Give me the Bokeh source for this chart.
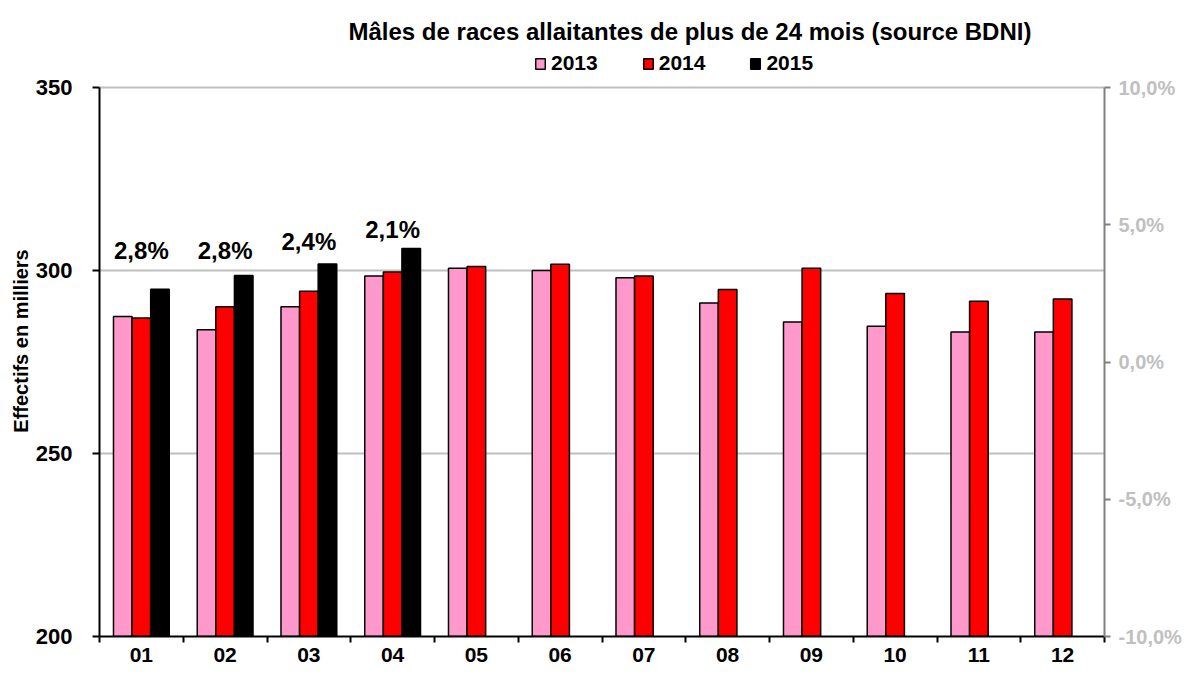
from bokeh.plotting import figure
from bokeh.models import (Range1d, LinearAxis, FixedTicker, Legend, LegendItem,
                          CustomJSTickFormatter)
from bokeh.core.properties import value
from bokeh.embed import file_html
from bokeh.resources import INLINE

months = ["01", "02", "03", "04", "05", "06", "07", "08", "09", "10", "11", "12"]
v2013 = [287.4, 283.8, 290.1, 298.5, 300.6, 300.0, 298.0, 291.1, 285.9, 284.8, 283.2, 283.2]
v2014 = [287.0, 290.1, 294.3, 299.6, 301.1, 301.7, 298.5, 294.8, 300.6, 293.7, 291.6, 292.2]
v2015 = [294.9, 298.6, 301.8, 306.0]
pct_labels = ["2,8%", "2,8%", "2,4%", "2,1%"]
pct_label_y = [305.6, 305.6, 307.9, 311.2]
series_names = ["2013", "2014", "2015"]
y_ticks = [200, 250, 300, 350]
pct_ticks = [-10, -5, 0, 5, 10]

FONT = "Liberation Sans"
colors = ["#FF99CC", "#FF0000", "#000000"]
bar_w = 0.222
offsets = [-bar_w, 0.0, bar_w]

# Layout (pixels): the frame extends above the value axis so the legend can sit there
W, H = 1184, 666
FRAME_TOP, FRAME_BOTTOM, AXIS_TOP = 45, 636, 87
FRAME_LEFT, FRAME_RIGHT = 99, 1104
y_lo, y_hi = y_ticks[0], y_ticks[-1]
p_lo, p_hi = pct_ticks[0], pct_ticks[-1]
y_max = y_hi + (AXIS_TOP - FRAME_TOP) * (y_hi - y_lo) / (FRAME_BOTTOM - AXIS_TOP)
p_max = p_hi + (y_max - y_hi) * (p_hi - p_lo) / (y_hi - y_lo)

p = figure(width=W, height=H, x_range=Range1d(0, len(months)),
           y_range=Range1d(y_lo, y_max), output_backend="svg", toolbar_location=None,
           min_border_left=FRAME_LEFT, min_border_right=W - FRAME_RIGHT,
           min_border_top=FRAME_TOP, min_border_bottom=H - FRAME_BOTTOM)
p.outline_line_color = None
p.background_fill_color = "white"

# Title
p.title.text = "Mâles de races allaitantes de plus de 24 mois (source BDNI)"
p.title.align = "left"
p.title.offset = 249
p.title.standoff = 2
p.title.text_font = FONT
p.title.text_font_style = "bold"
p.title.text_font_size = "24px"
p.title.text_color = "black"

# Bars
renderers = []
for vals, off, col in zip([v2013, v2014, v2015], offsets, colors):
    xs = [i + 0.5 + off for i in range(len(vals))]
    r = p.vbar(x=xs, top=vals, bottom=y_lo, width=bar_w, fill_color=col,
               line_color="black", line_width=1.5)
    renderers.append(r)

# Percentage labels
p.text(x=[i + 0.5 for i in range(len(pct_labels))], y=pct_label_y, text=pct_labels,
       text_font=value(FONT), text_font_style="bold", text_font_size="24px",
       text_align="center", text_baseline="middle", text_color="black")

# Grid
p.xgrid.grid_line_color = None
p.ygrid.ticker = FixedTicker(ticks=y_ticks)
p.ygrid.grid_line_color = "#c0c0c0"
p.ygrid.grid_line_width = 2

# Left axis
ya = p.yaxis[0]
ya.ticker = FixedTicker(ticks=y_ticks)
ya.bounds = (y_lo, y_hi)
ya.axis_line_color = "black"
ya.axis_line_width = 2
ya.major_tick_line_color = "black"
ya.major_tick_line_width = 2
ya.major_tick_out = 7
ya.major_tick_in = 0
ya.minor_tick_line_color = None
ya.major_label_text_font = FONT
ya.major_label_text_font_style = "bold"
ya.major_label_text_font_size = "22px"
ya.major_label_text_color = "black"
ya.major_label_standoff = 20
ya.axis_label = "Effectifs en milliers"
ya.axis_label_text_font = FONT
ya.axis_label_text_font_style = "bold"
ya.axis_label_text_font_size = "20px"
ya.axis_label_text_color = "black"
ya.axis_label_standoff = 1

# Bottom axis: labels at category centres, ticks at category boundaries
xa = p.xaxis[0]
xa.ticker = FixedTicker(ticks=[i + 0.5 for i in range(len(months))],
                        minor_ticks=list(range(len(months) + 1)))
xa.formatter = CustomJSTickFormatter(args=dict(labels=months),
                                     code="return labels[Math.floor(tick)];")
xa.axis_line_color = "black"
xa.axis_line_width = 2
xa.major_tick_line_color = None
xa.major_tick_out = 0
xa.major_tick_in = 0
xa.minor_tick_line_color = "black"
xa.minor_tick_line_width = 2
xa.minor_tick_out = 6
xa.minor_tick_in = 0
xa.major_label_text_font = FONT
xa.major_label_text_font_style = "bold"
xa.major_label_text_font_size = "21px"
xa.major_label_text_color = "black"
xa.major_label_standoff = 5

# Right axis (percent)
p.extra_y_ranges = {"pct": Range1d(p_lo, p_max)}
ra = LinearAxis(y_range_name="pct", ticker=FixedTicker(ticks=pct_ticks),
                formatter=CustomJSTickFormatter(
                    code="return tick.toFixed(1).replace('.', ',') + '%';"))
ra.bounds = (p_lo, p_hi)
ra.axis_line_color = "#808080"
ra.axis_line_width = 2
ra.major_tick_line_color = "#808080"
ra.major_tick_line_width = 2
ra.major_tick_out = 6
ra.major_tick_in = 0
ra.minor_tick_line_color = None
ra.major_label_text_font = FONT
ra.major_label_text_font_style = "bold"
ra.major_label_text_font_size = "20px"
ra.major_label_text_color = "#c0c0c0"
ra.major_label_standoff = 8
p.add_layout(ra, "right")

# Legend (in the band of the frame above the value axis)
legend = Legend(items=[LegendItem(label=n, renderers=[r]) for n, r in zip(series_names, renderers)],
                orientation="horizontal",
                location=(534 - FRAME_LEFT, FRAME_BOTTOM - 75))
legend.label_text_font = FONT
legend.label_text_font_style = "bold"
legend.label_text_font_size = "21px"
legend.label_text_color = "black"
legend.glyph_width = 12
legend.glyph_height = 13
legend.label_standoff = 5
legend.spacing = 44
legend.padding = 0
legend.margin = 0
legend.border_line_color = None
legend.background_fill_alpha = 0
p.add_layout(legend)

with open("out.html", "w") as f:
    f.write(file_html(p, INLINE))
